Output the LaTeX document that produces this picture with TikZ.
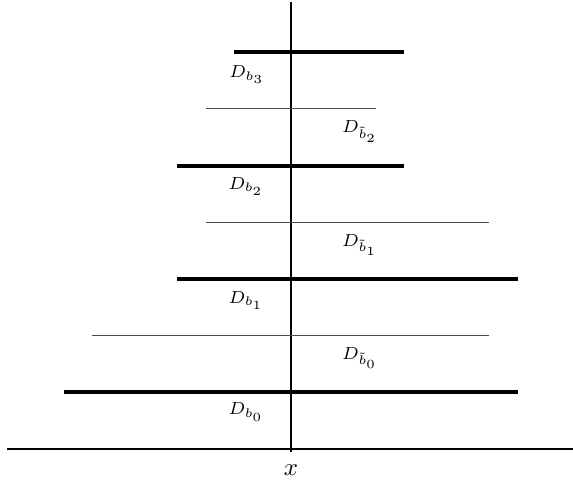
\documentclass[tikz,border=0pt]{standalone}
\begin{document}
\begin{tikzpicture}[x=0.4cm,y=0.4cm,
  axis/.style={line width=0.5pt,black},
  thickline/.style={line width=1.6pt,black},
  thinline/.style={line width=0.4pt,black!70},
  lab/.style={font=\scriptsize,inner sep=0pt}]
\useasboundingbox (-10.26,-1.34) rectangle (9.95,15.84);
% axes
\coordinate (vb) at (0,-0.12);
\coordinate (vt) at (0,15.78);
\coordinate (hl) at (-10,0);
\coordinate (hr) at (10,0);
\draw[axis] (vb) -- (vt);
\draw[axis] (hl) -- (hr);
\node[inner sep=0pt] (xl) at (0,-0.74) {$x$};
% thick lines
\coordinate (a3l) at (-2,14); \coordinate (a3r) at (4,14);
\coordinate (a2l) at (-4,10); \coordinate (a2r) at (4,10);
\coordinate (a1l) at (-4,6);  \coordinate (a1r) at (8,6);
\coordinate (a0l) at (-8,2);  \coordinate (a0r) at (8,2);
\draw[thickline] (a3l) -- (a3r);
\draw[thickline] (a2l) -- (a2r);
\draw[thickline] (a1l) -- (a1r);
\draw[thickline] (a0l) -- (a0r);
% thin lines
\coordinate (t2l) at (-3,12); \coordinate (t2r) at (3,12);
\coordinate (t1l) at (-3,8);  \coordinate (t1r) at (7,8);
\coordinate (t0l) at (-7,4);  \coordinate (t0r) at (7,4);
\draw[thinline] (t2l) -- (t2r);
\draw[thinline] (t1l) -- (t1r);
\draw[thinline] (t0l) -- (t0r);
% labels
\node[lab] (l3) at (-1.55,13.2) {$D_{b_3}$};
\node[lab] (lt2) at (2.43,11.2) {$D_{\tilde b_2}$};
\node[lab] (l2) at (-1.58,9.27) {$D_{b_2}$};
\node[lab] (lt1) at (2.43,7.2) {$D_{\tilde b_1}$};
\node[lab] (l1) at (-1.58,5.25) {$D_{b_1}$};
\node[lab] (lt0) at (2.43,3.22) {$D_{\tilde b_0}$};
\node[lab] (l0) at (-1.58,1.3) {$D_{b_0}$};
\end{tikzpicture}
\end{document}
